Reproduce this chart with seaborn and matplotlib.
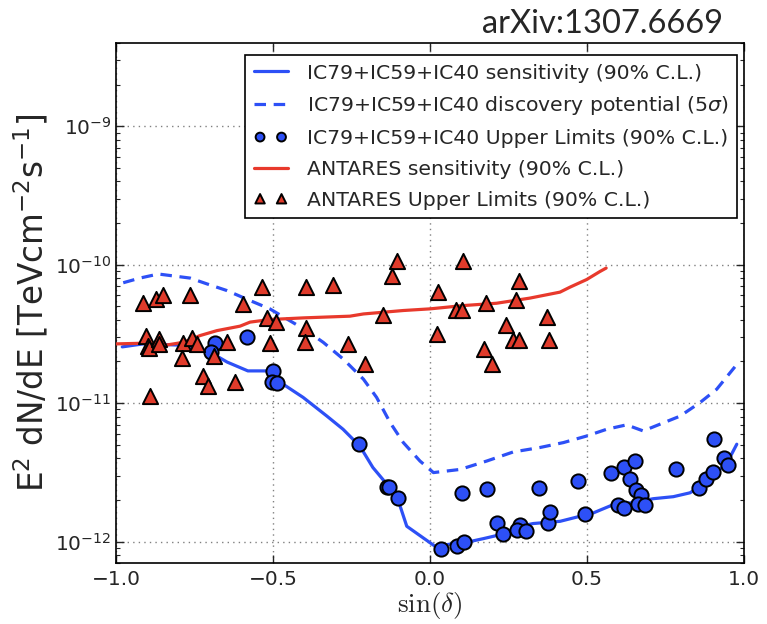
import numpy as np
import matplotlib
matplotlib.use("Agg")
import matplotlib.pyplot as plt
import seaborn as sns
from matplotlib.ticker import LogLocator, NullLocator, FixedLocator

# ---------------- data ----------------
# IceCube IC79+IC59+IC40 sensitivity (90% C.L.)
ic_sens_x = [-0.98, -0.914, -0.806, -0.742, -0.701, -0.646, -0.580, -0.519, -0.478, -0.404,
             -0.328, -0.277, -0.223, -0.182, -0.137, -0.102, -0.074, 0.016, 0.053, 0.127,
             0.170, 0.223, 0.287, 0.329, 0.414, 0.520, 0.584, 0.647, 0.711, 0.775,
             0.828, 0.870, 0.924, 0.955, 0.977]
ic_sens_y = [25.5, 26.8, 26.3, 24.6, 23.4, 19.8, 17.1, 17.1, 14.2, 11.0,
             8.05, 6.48, 4.88, 3.43, 2.59, 2.01, 1.29, 0.925, 0.95, 1.0,
             1.05, 1.12, 1.29, 1.35, 1.40, 1.61, 1.85, 1.91, 2.04, 2.11,
             2.25, 2.59, 3.33, 4.05, 5.05]  # x1e-12

# IceCube discovery potential (5 sigma)
ic_disc_x = [-0.977, -0.924, -0.865, -0.764, -0.711, -0.647, -0.573, -0.510, -0.456, -0.393,
             -0.340, -0.276, -0.212, -0.170, -0.127, -0.085, -0.032, 0.011, 0.096, 0.181,
             0.265, 0.350, 0.425, 0.499, 0.563, 0.626, 0.679, 0.732, 0.796, 0.860,
             0.913, 0.971]
ic_disc_y = [74.1, 80.1, 85.7, 80.1, 72.8, 65.1, 55.1, 48.0, 40.6, 33.4,
             27.5, 20.8, 14.9, 11.0, 7.24, 5.19, 3.82, 3.15, 3.32, 3.82,
             4.44, 4.78, 5.19, 5.79, 6.48, 6.97, 6.30, 7.04, 8.05, 10.1,
             12.6, 18.3]  # x1e-12

# IceCube upper limits (90% C.L.)
ic_ul_x = [-0.684, -0.697, -0.584, -0.500, -0.504, -0.486, -0.227, -0.137, -0.130, -0.101,
           0.035, 0.087, 0.108, 0.101, 0.181, 0.347, 0.212, 0.233, 0.287, 0.278,
           0.305, 0.375, 0.383, 0.472, 0.495, 0.576, 0.619, 0.653, 0.638, 0.656,
           0.673, 0.600, 0.619, 0.663, 0.685, 0.784, 0.857, 0.878, 0.900, 0.905,
           0.937, 0.949]
ic_ul_y = [27.1, 23.3, 29.9, 17.0, 14.3, 14.0, 5.05, 2.49, 2.47, 2.06,
           0.889, 0.924, 0.995, 2.23, 2.41, 2.43, 1.37, 1.14, 1.31, 1.22,
           1.19, 1.37, 1.64, 2.75, 1.57, 3.15, 3.45, 3.84, 2.85, 2.35,
           2.17, 1.83, 1.75, 1.88, 1.85, 3.33, 2.45, 2.81, 3.18, 5.55,
           3.99, 3.6]  # x1e-12

# ANTARES sensitivity (90% C.L.)
ant_sens_x = [-1.0, -0.913, -0.839, -0.786, -0.732, -0.679, -0.605, -0.573, -0.510, -0.404,
              -0.255, -0.212, -0.085, 0.0, 0.106, 0.212, 0.318, 0.414, 0.446, 0.499,
              0.541, 0.561]
ant_sens_y = [2.68, 2.71, 2.63, 2.75, 3.08, 3.34, 3.60, 3.85, 4.02, 4.13,
              4.25, 4.41, 4.67, 4.80, 5.07, 5.27, 5.74, 6.34, 6.89, 7.82,
              8.93, 9.46]  # x1e-11

# ANTARES upper limits (90% C.L.)
ant_ul_x = [-0.913, -0.874, -0.849, -0.764, -0.904, -0.899, -0.895, -0.863, -0.863, -0.788,
            -0.759, -0.743, -0.790, -0.687, -0.646, -0.724, -0.706, -0.621, -0.892, -0.595,
            -0.536, -0.518, -0.491, -0.510, -0.106, -0.120, -0.395, -0.308, 0.026, -0.151,
            -0.395, -0.398, -0.262, -0.207, 0.021, 0.104, 0.284, 0.274, 0.178, 0.083,
            0.103, 0.372, 0.241, 0.263, 0.283, 0.378, 0.172, 0.197]
ant_ul_y = [5.31, 5.61, 6.0, 6.0, 3.08, 2.6, 2.49, 2.91, 2.68, 2.72,
            2.96, 2.68, 2.11, 2.2, 2.78, 1.56, 1.33, 1.41, 1.12, 5.21,
            6.89, 4.11, 3.85, 2.72, 10.6, 8.23, 6.89, 7.08, 6.34, 4.35,
            3.47, 2.78, 2.68, 1.92, 3.16, 10.6, 7.69, 5.58, 5.3, 4.72,
            4.72, 4.18, 3.69, 2.86, 2.86, 2.86, 2.46, 1.93]  # x1e-11

labels = {
    "sens": "IC79+IC59+IC40 sensitivity (90% C.L.)",
    "disc": r"IC79+IC59+IC40 discovery potential (5$\sigma$)",
    "icul": "IC79+IC59+IC40 Upper Limits (90% C.L.)",
    "asens": "ANTARES sensitivity (90% C.L.)",
    "aul": "ANTARES Upper Limits (90% C.L.)",
}
x_ticks = [-1.0, -0.5, 0.0, 0.5, 1.0]
x_tick_labels = ["\u22121.0", "\u22120.5", "0.0", "0.5", "1.0"]
y_ticks = [1e-12, 1e-11, 1e-10, 1e-9]

# ---------------- style ----------------
sns.set_style("ticks")
plt.rcParams["font.family"] = ["DejaVu Sans"]
plt.rcParams["mathtext.fontset"] = "dejavusans"

BLUE = "#2d50f6"
RED = "#e8392c"
RED_FILL = "#e03b2b"

fig = plt.figure(figsize=(7.67, 6.24), dpi=100)
ax = fig.add_axes([116 / 767, 61 / 624, 628 / 767, 520 / 624])

s12 = 1e-12
s11 = 1e-11

sns.lineplot(x=ic_sens_x, y=np.array(ic_sens_y) * s12, ax=ax, color=BLUE, lw=2.3,
             sort=False, estimator=None, label=labels["sens"], zorder=3)
sns.lineplot(x=ic_disc_x, y=np.array(ic_disc_y) * s12, ax=ax, color=BLUE, lw=2.3,
             sort=False, estimator=None, label=labels["disc"], zorder=3)
ax.lines[-1].set_dashes((3.6, 2.4))
sns.scatterplot(x=ic_ul_x, y=np.array(ic_ul_y) * s12, ax=ax, marker="o", s=105,
                color=BLUE, edgecolor="black", linewidth=1.4, label=labels["icul"], zorder=4)
sns.lineplot(x=ant_sens_x, y=np.array(ant_sens_y) * s11, ax=ax, color=RED, lw=2.3,
             sort=False, estimator=None, label=labels["asens"], zorder=5)
sns.scatterplot(x=ant_ul_x, y=np.array(ant_ul_y) * s11, ax=ax, marker="^", s=120,
                color=RED_FILL, edgecolor="black", linewidth=1.4, label=labels["aul"], zorder=6)

ax.set_yscale("log")
ax.set_xlim(-1.0, 1.0)
ax.set_ylim(7e-13, 4e-9)
ax.xaxis.set_major_locator(FixedLocator(x_ticks))
ax.xaxis.set_minor_locator(NullLocator())
ax.set_xticklabels(x_tick_labels)
ax.yaxis.set_major_locator(FixedLocator(y_ticks))
ax.yaxis.set_minor_locator(LogLocator(base=10, subs=np.arange(2, 10), numticks=20))

ax.tick_params(which="both", direction="in", top=True, right=True, labelsize=14.5)
ax.tick_params(which="major", length=6, width=1)
ax.tick_params(which="minor", length=3, width=0.8)
ax.tick_params(axis="x", pad=5)
for sp in ax.spines.values():
    sp.set_linewidth(1.2)
    sp.set_color("black")
ax.grid(True, which="major", color="0.5", linestyle=(0, (1, 3)), linewidth=1.0)

ax.set_ylabel(r"E$^2$ dN/dE [TeVcm$^{-2}$s$^{-1}$]", fontsize=23.5, labelpad=3)
ax.set_xlabel(r"$\sin(\delta)$", fontsize=19.5, math_fontfamily="cm", labelpad=1)

handles, labs = ax.get_legend_handles_labels()
order = [labels[k] for k in ["sens", "disc", "icul", "asens", "aul"]]
hmap = dict(zip(labs, handles))
leg = ax.legend([hmap[l] for l in order], order, loc="upper right",
                bbox_to_anchor=(0.989, 0.977), borderaxespad=0, fontsize=14.7,
                scatterpoints=2, scatteryoffsets=[0.5], markerscale=0.62,
                fancybox=False, framealpha=1, edgecolor="black",
                handlelength=1.65, handletextpad=0.95, labelspacing=0.58,
                borderpad=0.42)
leg.get_frame().set_linewidth(1.2)
leg.set_zorder(10)

fig.text(723 / 767, 1 - 24 / 624, "arXiv:1307.6669", ha="right", va="center",
         family=["Lato", "DejaVu Sans"], fontsize=23.5)

fig.savefig("out.png", dpi=100)
